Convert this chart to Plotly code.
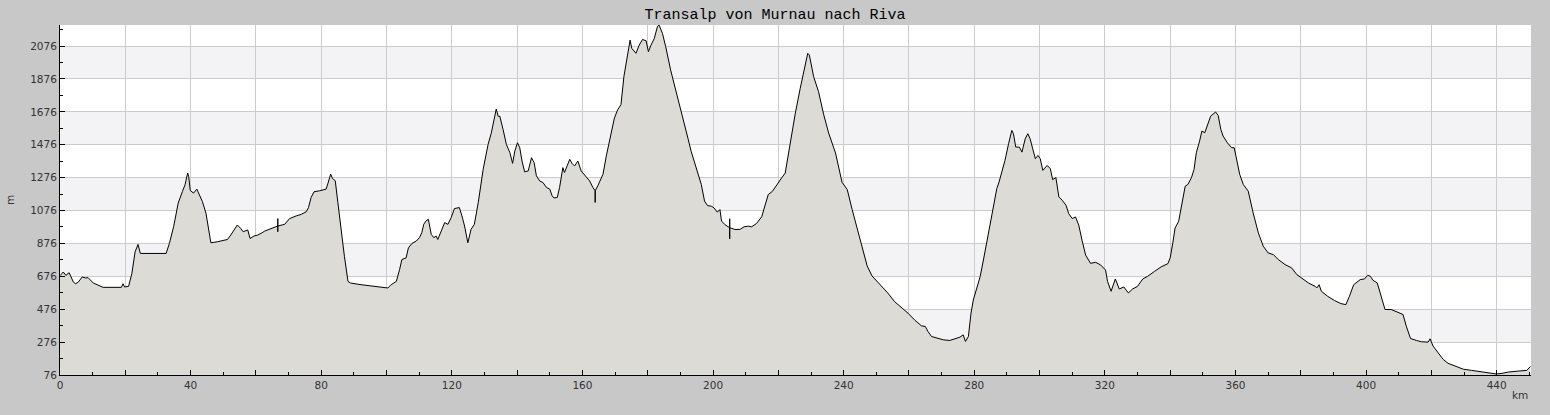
import plotly.graph_objects as go

title_text = "Transalp von Murnau nach Riva"

km = [
    0.0, 1.0, 1.8, 2.8, 4.1, 4.8, 5.6, 6.8, 7.8, 8.6, 10.2, 11.5, 13.2, 18.8, 19.3, 19.8, 21.0, 22.0,
    23.0, 23.9, 24.6, 32.5, 33.5, 34.8, 36.2, 37.5, 38.3, 39.1, 39.4, 39.9, 40.9, 41.9, 42.6, 43.6,
    44.7, 45.4, 46.2, 48.2, 51.3, 52.3, 54.3, 55.3, 56.1, 57.5, 58.2, 59.4, 60.6, 61.9,
    62.7, 66.7, 66.7, 66.7, 66.7, 68.8, 70.3, 72.3, 73.9, 75.4, 76.1, 76.9, 77.8, 79.5, 81.5, 82.0,
    82.9, 83.4, 84.3, 85.1, 86.1, 87.1, 88.2, 89.0, 92.2, 96.3, 100.4, 101.4, 103.0, 104.0, 104.7,
    106.0, 106.7, 107.8, 109.1, 110.1, 110.8, 111.4, 112.1, 112.8, 113.7, 114.5, 115.2, 115.7, 116.7,
    117.8, 118.8, 119.8, 120.8, 122.3, 123.1, 123.9, 124.9, 125.9, 126.9,
    128.1, 129.6, 131.1, 132.1, 132.9, 133.6, 134.2, 134.7, 135.7, 136.7, 137.8, 138.6, 139.3, 140.1,
    140.8, 141.5, 142.3, 143.4, 144.4, 145.2, 145.9, 146.9, 147.9, 149.0, 150.0, 150.7, 151.3, 152.3,
    153.0, 154.0, 154.5, 155.4, 156.1, 156.8, 157.6, 158.6, 159.6, 160.7, 162.2, 163.2, 163.9, 163.9,
    163.9, 164.7, 166.3, 167.3, 168.8, 169.8, 170.8, 171.8, 172.7, 173.7, 174.6, 175.1, 176.4, 177.4,
    178.4, 179.5, 180.2, 181.0, 182.0, 183.0, 183.5, 184.5, 185.5, 187.0, 188.6, 190.1, 191.1,
    192.3, 193.3, 194.3, 195.4, 196.4, 197.4, 198.3, 199.5, 200.3, 201.3, 202.1, 202.6, 203.6, 205.1,
    205.1, 205.1, 205.1, 206.7, 208.2, 209.5, 210.8, 211.8, 213.3, 214.9, 215.9, 216.9, 218.2, 219.5,
    221.0, 222.1, 223.1, 224.1, 225.2, 226.7, 228.0, 229.0, 229.5, 230.8, 232.3, 233.9, 235.4, 237.5,
    239.5, 241.1, 242.6, 244.1, 245.7, 247.2, 248.7, 251.0, 253.5,
    255.6, 257.6, 259.7, 261.7, 263.8, 265.0, 265.8, 266.9, 268.4, 270.5, 272.5, 274.1, 275.6, 276.6,
    277.3, 278.2, 279.0, 279.7, 280.7, 281.8, 282.8, 283.8, 284.8, 285.9, 286.9, 287.6, 288.4, 289.4,
    290.5, 291.5, 292.0, 292.7, 293.8, 294.6, 295.6, 296.4, 297.1, 297.9, 298.7, 299.5, 300.2, 301.0,
    302.3, 303.3, 304.0, 305.0, 305.9, 306.9, 308.1, 308.9, 310.0, 311.0, 312.0, 313.0, 314.1, 315.6,
    317.2, 318.7, 320.2,
    320.8, 321.9, 323.2, 324.4, 325.8, 327.2, 328.5, 330.0, 331.6, 333.1, 335.2, 337.2, 339.3, 340.0,
    340.8, 341.5, 342.6, 343.6, 344.6, 345.4, 346.5, 347.3, 348.0, 349.0, 349.7, 350.6, 351.4, 352.4,
    353.9, 354.7, 355.5, 356.2, 357.5, 358.8, 359.6, 360.3, 361.3, 362.4, 363.9, 365.4, 367.0, 368.5,
    370.0, 371.6, 373.1, 375.2, 377.2, 378.8, 380.3, 382.4, 384.4,
    384.9, 385.6, 386.3, 388.2, 390.3, 392.3, 393.8, 394.9, 396.2, 396.9, 398.2, 399.5, 400.5, 401.3,
    402.1, 403.4, 404.6, 405.8, 407.7, 409.5, 411.3, 412.3, 413.6, 415.4, 416.9, 419.0, 419.6, 420.5,
    422.0, 423.6, 425.1, 427.2, 429.8, 432.3, 435.4, 437.9, 440.0, 441.6, 443.6, 446.7, 449.2, 450.3,
]

elevation = [
    680, 702, 682, 698, 641, 631, 641, 672, 666, 668, 635, 625, 609, 609, 631, 611, 615, 692,
    825, 870, 815, 815, 876, 978, 1121, 1192, 1233, 1304, 1284, 1198, 1182, 1206, 1172, 1131,
    1060, 968, 880, 886, 900, 927, 988, 968, 947, 958, 906, 921, 927, 941,
    951, 982, 1027, 947, 982, 992, 1027, 1043, 1053, 1068, 1094, 1155, 1190, 1196, 1206, 1237,
    1298, 1272, 1257, 1125, 941, 798, 645, 635, 625, 615, 605, 625, 645, 717, 778,
    788, 849, 876, 890, 911, 941, 992, 1013, 1023, 931, 911, 921, 900, 951,
    1002, 992, 1033, 1088, 1094, 1043, 982, 880, 962, 992,
    1125, 1327, 1478, 1548, 1639, 1693, 1649, 1649, 1568, 1478, 1427, 1363, 1438, 1488,
    1458, 1377, 1311, 1317, 1397, 1367, 1287, 1256, 1246, 1216, 1206, 1166, 1152, 1156,
    1216, 1337, 1307, 1347, 1387, 1363, 1347, 1377, 1317, 1291, 1256, 1216, 1196, 1125,
    1196, 1226, 1297, 1407, 1548, 1639, 1689, 1720, 1891, 2022, 2112, 2062, 2032, 2082,
    2116, 2108, 2042, 2082, 2122, 2197, 2203, 2153, 2072, 1931, 1810, 1699, 1619,
    1516, 1436, 1375, 1304, 1234, 1133, 1106, 1102, 1092, 1066, 1082, 1012, 991, 971,
    1026, 904, 971, 961, 961, 977, 981, 977, 997, 1038, 1112, 1173, 1193, 1234,
    1274, 1304, 1426, 1547, 1668, 1819, 1931, 2032, 2021, 1890, 1799, 1658, 1547, 1426,
    1248, 1203, 1082, 971, 840, 739, 678, 630, 575,
    522, 488, 452, 411, 375, 371, 341, 310, 300, 290, 286, 294, 306, 320,
    280, 310, 452, 532, 603, 674, 775, 886, 977, 1098, 1209, 1250, 1310, 1381,
    1482, 1563, 1543, 1462, 1462, 1431, 1512, 1543, 1512, 1442, 1391, 1411, 1391, 1320,
    1350, 1330, 1264, 1276, 1159, 1139, 1108, 1058, 1027, 1037, 987, 896, 805, 755,
    761, 745, 714,
    646, 585, 660, 599, 611, 575, 599, 615, 660, 676, 706, 733, 753, 788,
    879, 970, 1011, 1112, 1224, 1234, 1275, 1326, 1427, 1498, 1559, 1549, 1600, 1650,
    1675, 1654, 1569, 1529, 1488, 1458, 1458, 1387, 1295, 1234, 1194, 1062, 940, 859,
    818, 808, 778, 747, 727, 686, 666, 635, 615,
    605, 625, 585, 555, 529, 510, 504, 555, 625, 636, 656, 660, 682, 676,
    652, 636, 555, 474, 474, 458, 444, 373, 298, 286, 278, 276, 296, 252,
    215, 171, 147, 131, 111, 104, 94, 86, 82, 86, 94, 100, 104, 127,
]

x_tick_values = [0, 20, 40, 60, 80, 100, 120, 140, 160, 180, 200, 220, 240, 260, 280, 300, 320, 340,
                 360, 380, 400, 420, 440]
x_tick_labels = ["0", "", "40", "", "80", "", "120", "", "160", "", "200", "", "240", "", "280", "",
                 "320", "", "360", "", "400", "", "440"]
y_tick_values = [76, 276, 476, 676, 876, 1076, 1276, 1476, 1676, 1876, 2076]
y_tick_labels = ["76", "276", "476", "676", "876", "1076", "1276", "1476", "1676", "1876", "2076"]
band_ranges = [(276, 476), (676, 876), (1076, 1276), (1476, 1676), (1876, 2076)]

X_MAX = 450.5
Y_MIN, Y_MAX = 76, 2204

fig = go.Figure()
fig.add_trace(go.Scatter(
    x=km, y=elevation, mode="lines",
    line=dict(color="black", width=1),
    fill="tozeroy", fillcolor="#dcdbd6",
    hoverinfo="x+y", showlegend=False,
))

shapes = []
for lo, hi in band_ranges:
    shapes.append(dict(type="rect", xref="paper", x0=0, x1=1, yref="y", y0=lo, y1=hi,
                       fillcolor="#f3f2f5", line=dict(width=0), layer="below"))

tick_font = dict(family="DejaVu Sans, sans-serif", size=10.5, color="#333333")

fig.update_layout(
    width=1550, height=415,
    margin=dict(l=60, r=19, t=25, b=40),
    paper_bgcolor="#c8c8c8",
    plot_bgcolor="white",
    shapes=shapes,
    title=dict(text=title_text, x=0.5, xref="container", xanchor="center",
               y=1 - 14 / 415, yref="container", yanchor="middle",
               font=dict(family="Liberation Mono, DejaVu Sans Mono, monospace", size=15, color="black")),
    xaxis=dict(
        range=[0, X_MAX], tickmode="array", tickvals=x_tick_values, ticktext=x_tick_labels,
        showgrid=True, gridcolor="#cccccc", gridwidth=1, zeroline=False,
        showline=True, linecolor="black", linewidth=1,
        ticks="inside", ticklen=5, tickcolor="black", tickwidth=1,
        minor=dict(tick0=0, dtick=10, ticks="inside", ticklen=3, tickcolor="black", showgrid=False),
        tickfont=tick_font,
    ),
    yaxis=dict(
        range=[Y_MIN, Y_MAX], tickmode="array", tickvals=y_tick_values, ticktext=y_tick_labels,
        showgrid=True, gridcolor="#cccccc", gridwidth=1, zeroline=False,
        showline=True, linecolor="black", linewidth=1,
        ticks="inside", ticklen=5, tickcolor="black", tickwidth=1,
        minor=dict(tick0=76, dtick=100, ticks="inside", ticklen=3, tickcolor="black", showgrid=False),
        tickfont=tick_font,
    ),
    annotations=[
        dict(text="km", xref="paper", yref="paper", x=1, y=0, xanchor="right", yanchor="top",
             yshift=-12, xshift=-1, showarrow=False, font=tick_font),
        dict(text="m", xref="paper", yref="paper", x=-50 / 1471, y=0.5, xanchor="center",
             yanchor="middle", textangle=-90, showarrow=False, font=tick_font),
    ],
)

fig.write_html("out.html", config={"displayModeBar": False},
               post_script="document.body.style.margin='0';")
